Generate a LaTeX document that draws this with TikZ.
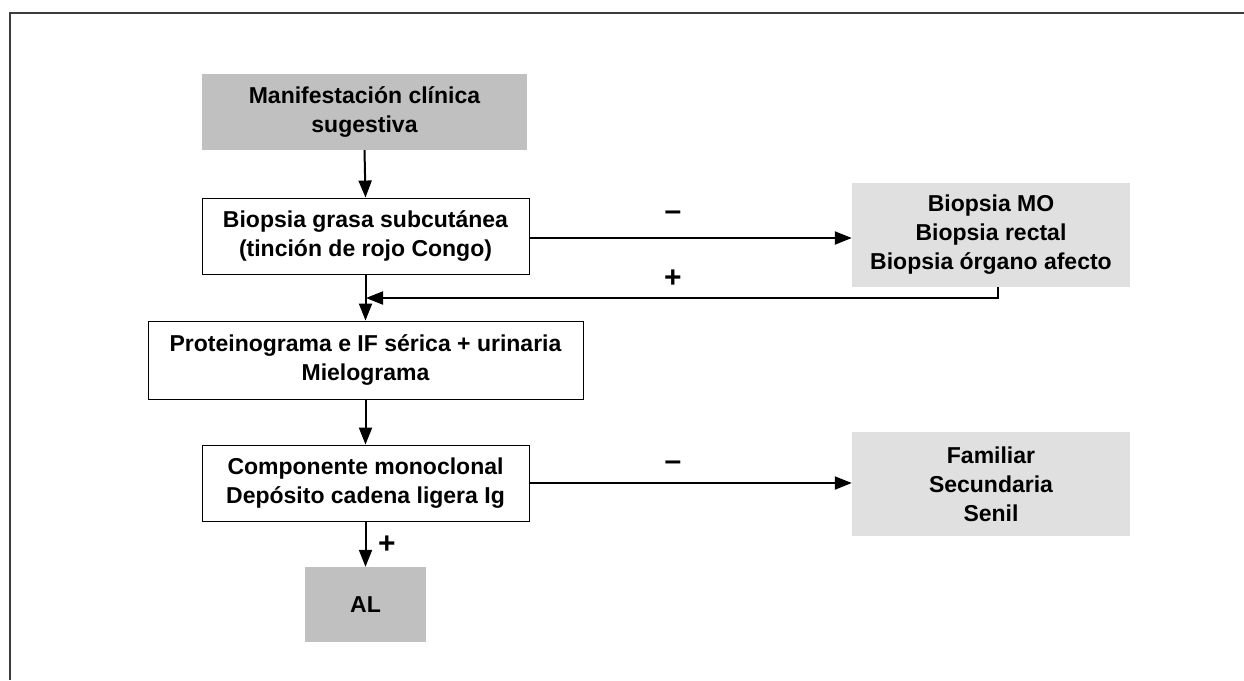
\documentclass[tikz,border=0pt]{standalone}
\usepackage{fontspec}
\setmainfont{Liberation Sans}
\usetikzlibrary{arrows.meta}
\definecolor{darkfill}{HTML}{C0C0C0}
\definecolor{lightfill}{HTML}{E0E0E0}
\definecolor{framegray}{HTML}{3C3C3C}
\begin{document}
\begin{tikzpicture}[x=1pt,y=-1pt,
  txt/.style={font=\bfseries\fontsize{23}{29}\selectfont, align=center, inner sep=0pt},
  whitebox/.style={txt, rectangle, draw=black, line width=0.9pt, fill=white},
  darkbox/.style={txt, rectangle, fill=darkfill},
  lightbox/.style={txt, rectangle, fill=lightfill},
  flow/.style={line width=2pt, -{Triangle[length=17pt,width=13pt]}},
  sign/.style={font=\bfseries\fontsize{30}{30}\selectfont, inner sep=0pt}]
  \useasboundingbox (0,0) rectangle (1244,680);
  % frame: top and left edges
  \draw[framegray, line width=2pt] (1244,13) -- (10,13) -- (10,680);

  \node[darkbox, minimum width=325pt, minimum height=76pt] (b1) at (364.5,112)
    {Manifestación clínica\\sugestiva};
  \node[whitebox, minimum width=327pt, minimum height=76pt] (b2) at (365.5,236)
    {Biopsia grasa subcutánea\\(tinción de rojo Congo)};
  \node[lightbox, minimum width=278pt, minimum height=104pt] (b3) at (991,235)
    {Biopsia MO\\Biopsia rectal\\Biopsia órgano afecto};
  \node[whitebox, minimum width=435pt, minimum height=78pt] (b4) at (365.5,360)
    {Proteinograma e IF sérica + urinaria\\Mielograma};
  \node[whitebox, minimum width=327pt, minimum height=76pt] (b5) at (365.5,483)
    {Componente monoclonal\\Depósito cadena ligera Ig};
  \node[lightbox, minimum width=278pt, minimum height=104pt] (b6) at (991,484)
    {Familiar\\Secundaria\\Senil};
  \node[darkbox, minimum width=121pt, minimum height=75pt] (al) at (365.5,604.5) {AL};

  \coordinate (r1) at (998,298);
  \coordinate (r2) at (366,298);

  \draw[flow] (b1.south) -- (b2.north);
  \draw[flow] ([yshift=-2pt]b2.east) -- ([yshift=-2pt]b2.east -| b3.west);
  \draw[flow] (r1 |- b3.south) -- (r1) -- (r2);
  \draw[flow] (b2.south) -- (b4.north);
  \draw[flow] (b4.south) -- (b5.north);
  \draw[flow] (b5.east) -- (b5.east -| b6.west);
  \draw[flow] (b5.south) -- (al.north);

  \node[sign] (m1) at (673,216) {–};
  \node[sign] (p1) at (673,279) {+};
  \node[sign] (m2) at (673,466) {–};
  \node[sign] (p2) at (387,545) {+};
\end{tikzpicture}
\end{document}
